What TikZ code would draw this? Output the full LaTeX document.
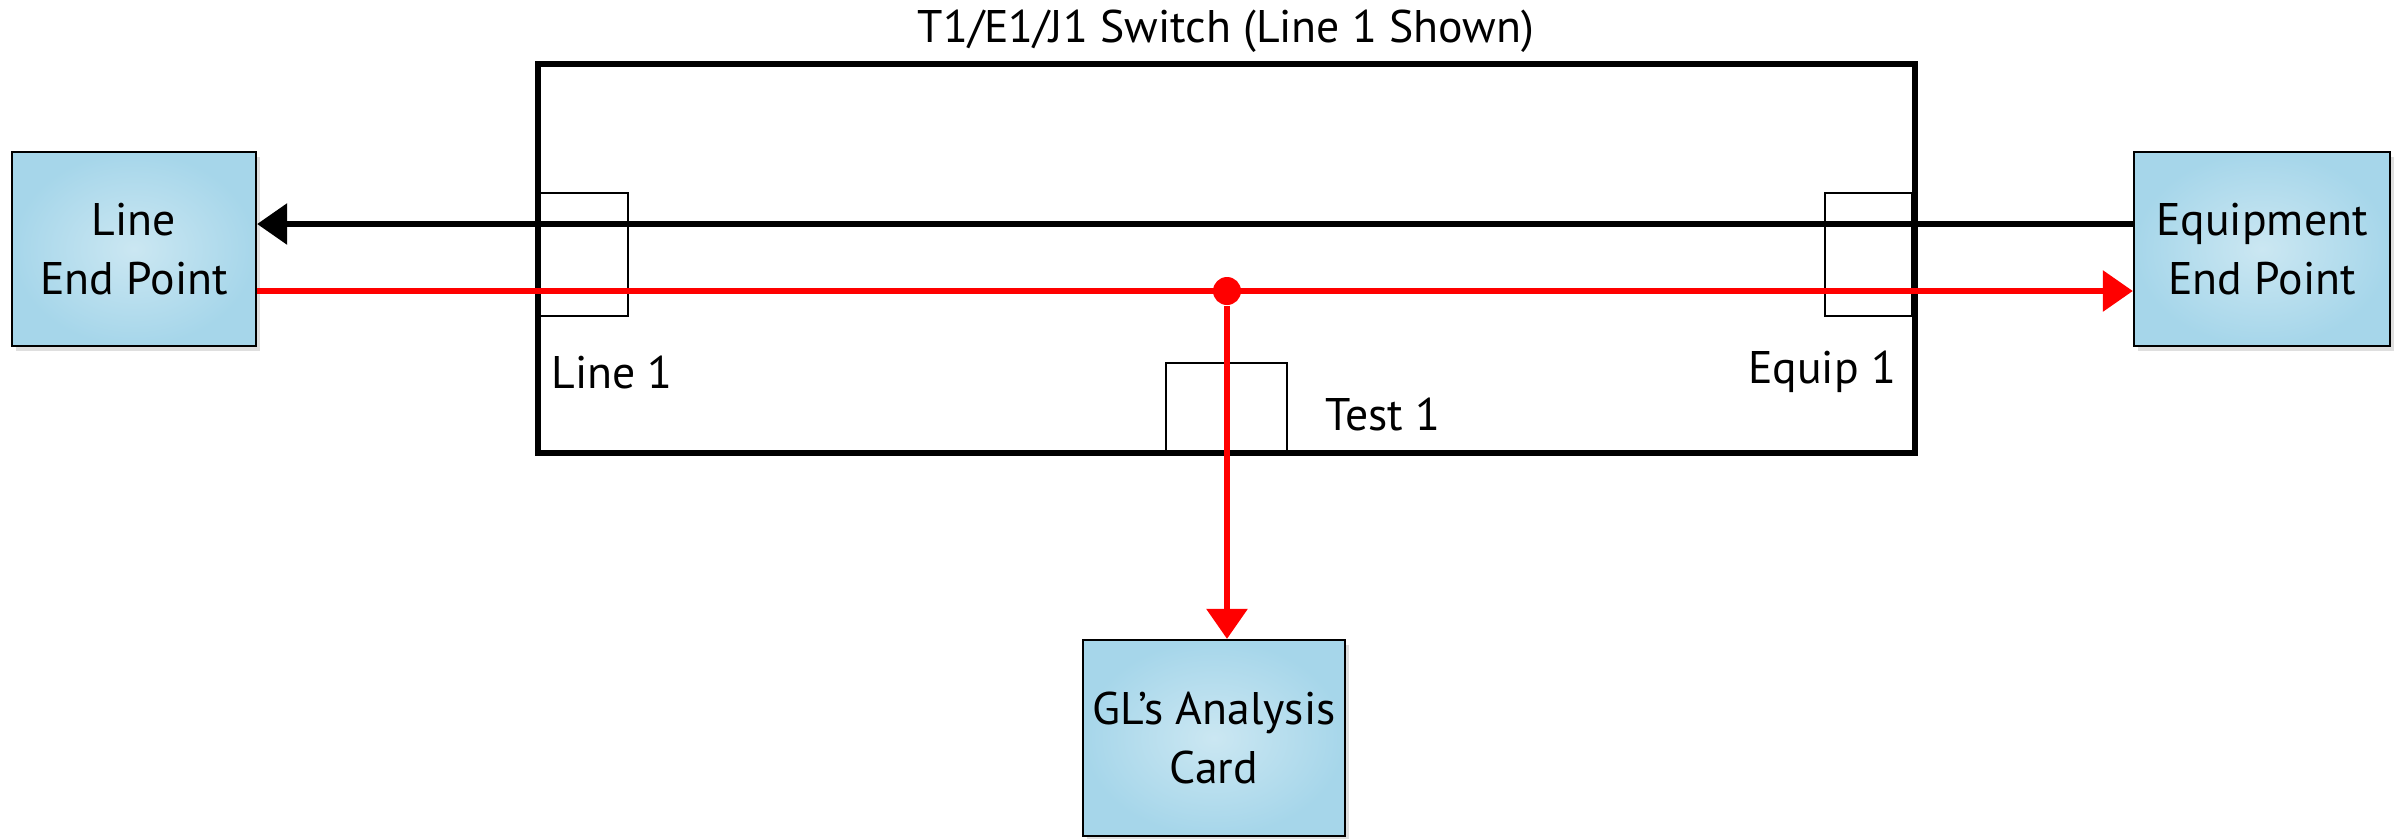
\documentclass[tikz,border=0pt]{standalone}
\usepackage{fontspec}
\setmainfont{PT Sans}
\usetikzlibrary{arrows.meta,shadows}
\definecolor{boxin}{HTML}{CBE7F2}
\definecolor{boxout}{HTML}{A6D6EA}
\tikzset{
  endbox/.style={draw,line width=0.6pt,inner sep=2pt,inner color=boxin,outer color=boxout,minimum width=2.44cm,minimum height=1.94cm,align=center,font=\fontsize{13}{17}\selectfont,drop shadow={opacity=0.25,shadow xshift=0.04cm,shadow yshift=-0.05cm}},
  lbl/.style={font=\fontsize{13}{17}\selectfont},
  blkline/.style={line width=1.7pt,-{Triangle[length=0.3cm,width=0.4cm]}},
  redline/.style={line width=1.7pt,red,-{Triangle[length=0.3cm,width=0.4cm]}}
}
\begin{document}
\begin{tikzpicture}[x=0.01cm,y=-0.01cm]
\useasboundingbox (0,0) rectangle (2402,838);
% switch frame and ports
\draw[line width=1.7pt] (538,64) rectangle (1915,453);
\draw[line width=0.5pt] (538,193) rectangle (628,316);
\draw[line width=0.5pt] (1825,193) rectangle (1912,316);
\draw[line width=0.5pt] (1166,363) rectangle (1287,453);
\node[lbl] (title) at (1226,31) {T1/E1/J1 Switch (Line 1 Shown)};
\node[lbl] (linelbl) at (612,372) {Line 1};
\node[lbl] (equiplbl) at (1822,372) {Equip 1};
\node[lbl] (testlbl) at (1383,414) {Test 1};
% end points
\node[endbox] (lineep) at (134,249) {Line\\End Point};
\node[endbox,minimum width=2.56cm] (equipep) at (2262,249) {Equipment\\End Point};
\node[endbox,minimum width=2.62cm,minimum height=1.96cm] (glcard) at (1214,738) {GL’s Analysis\\Card};
% signal paths
\draw[blkline] (equipep.west |- 0,224) -- (lineep.east |- 0,224);
\draw[redline] (lineep.east |- 0,291) -- (equipep.west |- 0,291);
\node[circle,fill=red,inner sep=0pt,minimum size=0.28cm] (tap) at (1227,291) {};
\draw[redline] (tap) -- (tap |- glcard.north);
\end{tikzpicture}
\end{document}
